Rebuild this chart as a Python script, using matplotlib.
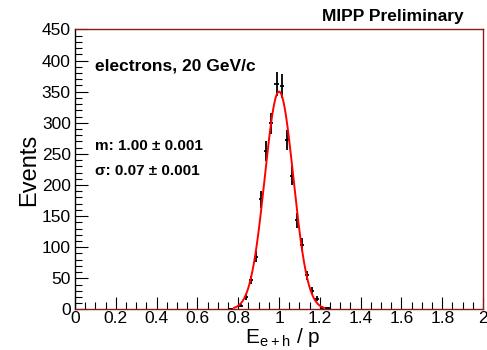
import matplotlib
matplotlib.use("Agg")
import matplotlib.pyplot as plt
import numpy as np
from matplotlib.ticker import MultipleLocator

plt.rcParams['font.family'] = ['Liberation Sans', 'DejaVu Sans']

# histogram bins (centres) and counts
bin_width = 0.025
bin_centers = [0.7625, 0.8125, 0.8375, 0.8625, 0.8875, 0.9125, 0.9375, 0.9625,
               0.9875, 1.0125, 1.0375, 1.0625, 1.0875, 1.1125, 1.1375, 1.1625,
               1.1875, 1.2125, 1.2375]
counts = [1, 6, 20, 47, 85, 177, 255, 299, 362, 359, 272, 215, 143, 104, 55,
          30, 17, 3, 2]

# gaussian fit result
fit_amp = 350.0
fit_mean = 1.00
fit_sigma = 0.07
fit_range = (0.78, 1.22)

frame_red = '#8b1a1a'

fig = plt.figure(figsize=(4.87, 3.5), dpi=100)
ax = fig.add_axes([0.154, 0.116, 0.838, 0.800])

x = np.array(bin_centers)
y = np.array(counts, dtype=float)
ax.errorbar(x, y, yerr=np.sqrt(y), xerr=bin_width / 2 * 0.8, fmt='none',
            ecolor='black', elinewidth=1.3, capsize=0)

xf = np.linspace(fit_range[0], fit_range[1], 300)
ax.plot(xf, fit_amp * np.exp(-0.5 * ((xf - fit_mean) / fit_sigma) ** 2),
        color='red', lw=1.4)

ax.set_xlim(0, 2)
ax.set_ylim(0, 450)
ax.xaxis.set_minor_locator(MultipleLocator(0.05))
ax.yaxis.set_major_locator(MultipleLocator(50))
ax.yaxis.set_minor_locator(MultipleLocator(10))
ax.set_xticks(np.arange(0, 2.01, 0.2))
ax.set_xticklabels(['0', '0.2', '0.4', '0.6', '0.8', '1', '1.2', '1.4', '1.6', '1.8', '2'])
ax.tick_params(which='major', direction='in', length=9, width=0.8, labelsize=12.5, pad=1)
ax.tick_params(axis='y', which='major', pad=3)
ax.tick_params(which='minor', direction='in', length=5, width=0.8)
ax.tick_params(top=False, right=False, which='both')

for side in ('top', 'right', 'bottom'):
    ax.spines[side].set_color(frame_red)
ax.spines['left'].set_color('black')
for s in ax.spines.values():
    s.set_linewidth(1.0)

ax.set_ylabel('Events', fontsize=17, labelpad=1)
fig.text(0.503, 0.02, r'E$_{\mathregular{e+h}}$ / p', fontsize=15,
         ha='left', va='baseline')

fig.text(0.951, 0.93, 'MIPP Preliminary', ha='right', va='bottom',
         fontsize=12.5, fontweight='bold')
ax.text(0.05, 0.87, 'electrons, 20 GeV/c', transform=ax.transAxes,
        fontsize=12.5, fontweight='bold', va='center')
ax.text(0.05, 0.585, 'm: 1.00 \u00b1 0.001', transform=ax.transAxes,
        fontsize=11, fontweight='bold', va='center')
ax.text(0.05, 0.495, '\u03c3: 0.07 \u00b1 0.001', transform=ax.transAxes,
        fontsize=11, fontweight='bold', va='center')

fig.savefig('out.png', dpi=100)
